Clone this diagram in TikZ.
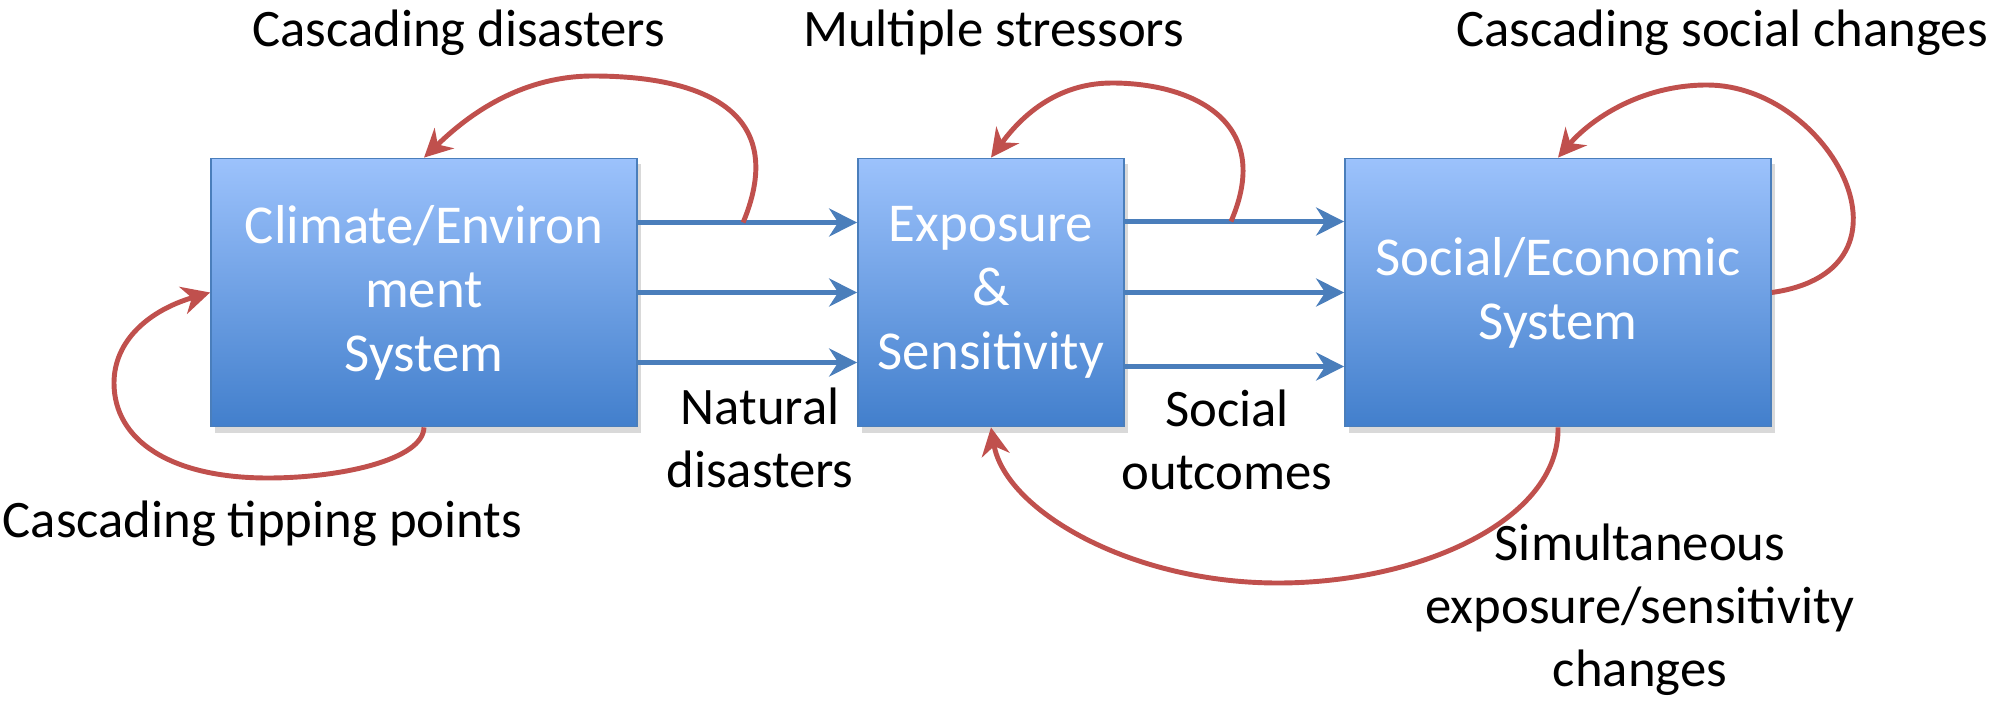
\documentclass[tikz,border=0pt]{standalone}
\usepackage{fontspec}
\setmainfont{Carlito}
\usetikzlibrary{arrows.meta,shadows}

\definecolor{boxtop}{RGB}{156,194,252}
\definecolor{boxbot}{RGB}{66,127,204}
\definecolor{boxedge}{RGB}{74,126,187}
\definecolor{flowblue}{RGB}{74,126,187}
\definecolor{loopred}{RGB}{192,80,77}

\begin{document}
\begin{tikzpicture}[
        sys/.style={draw=boxedge, line width=0.5pt, top color=boxtop, bottom color=boxbot,
            text=white, minimum height=2.68cm, inner sep=0pt, align=center,
            font=\fontsize{15.6}{18.2}\selectfont,
            drop shadow={shadow xshift=0.4mm, shadow yshift=-0.6mm, opacity=0.3}},
        flow/.style={draw=flowblue, line width=1.2pt, -{Stealth[length=2.8mm,width=2.8mm,inset=0.9mm]}},
        feedback/.style={draw=loopred, line width=1.4pt, -{Stealth[length=2.8mm,width=2.8mm,inset=0.9mm]}},
        lbl/.style={font=\fontsize{15}{17.8}\selectfont, inner sep=0pt, align=center}
    ]
            \useasboundingbox (0,0) rectangle (20.09,7.01);

            \node[sys,minimum width=4.26cm] (clim) at (4.24, 4.085) { Climate/Environ\\ment\\System };
            \node[sys,minimum width=2.66cm] (expo) at (9.91, 4.085) { Exposure\\\&\\Sensitivity };
            \node[sys,minimum width=4.26cm] (soc) at (15.58, 4.085) { Social/Economic\\System };

            \node[lbl,anchor=base] (cdis) at (4.645, 6.54) { Cascading disasters };
            \node[lbl,anchor=base] (mstr) at (9.995, 6.54) { Multiple stressors };
            \node[lbl,anchor=base] (csoc) at (17.28, 6.54) { Cascading social changes };
            \node[lbl,anchor=base] (ctip) at (2.685, 1.64) { Cascading tipping points };
            \node[lbl,anchor=base] (ndis) at (7.60, 2.14) { Natural\\disasters };
            \node[lbl,anchor=base] (sout) at (12.27, 2.12) { Social\\outcomes };
            \node[lbl,anchor=base] (sim) at (16.40, 0.15) { Simultaneous\\exposure/sensitivity\\changes };

            % climate -> exposure
            \draw[flow] ([yshift=7mm]clim.east) -- coordinate[pos=0.48] (cdstart) ([yshift=7mm]expo.west);
            \draw[flow] (clim.east) -- (expo.west);
            \draw[flow] ([yshift=-7mm]clim.east) -- ([yshift=-7mm]expo.west);

            % exposure -> social
            \draw[flow] ([yshift=7.1mm]expo.east) -- coordinate[pos=0.484] (msstart) ([yshift=7.1mm]soc.west);
            \draw[flow] (expo.east) -- (soc.west);
            \draw[flow] ([yshift=-7.4mm]expo.east) -- ([yshift=-7.4mm]soc.west);

            \draw[feedback] (cdstart) .. controls (7.90,5.91) and (7.00,6.25) .. (5.93,6.25)
                .. controls (5.10,6.25) and (4.55,5.73) .. (clim.north);
            \draw[feedback] (msstart) .. controls (12.75,5.81) and (11.90,6.18) .. (11.12,6.18)
                .. controls (10.50,6.18) and (10.15,5.76) .. (expo.north);
            \draw[feedback] (soc.east) .. controls (19.30,4.31) and (18.30,6.16) .. (17.07,6.16)
                .. controls (16.40,6.16) and (15.90,5.81) .. (soc.north);
            \draw[feedback] (clim.south) .. controls (4.23,2.41) and (3.40,2.23) .. (2.68,2.23)
                .. controls (1.70,2.23) and (1.14,2.61) .. (1.14,3.18)
                .. controls (1.14,3.61) and (1.50,3.91) .. (clim.west);
            \draw[feedback] (soc.south) .. controls (15.60,1.81) and (14.20,1.18) .. (12.78,1.18)
                .. controls (11.30,1.18) and (10.05,1.91) .. (expo.south);

        \end{tikzpicture}
\end{document}
